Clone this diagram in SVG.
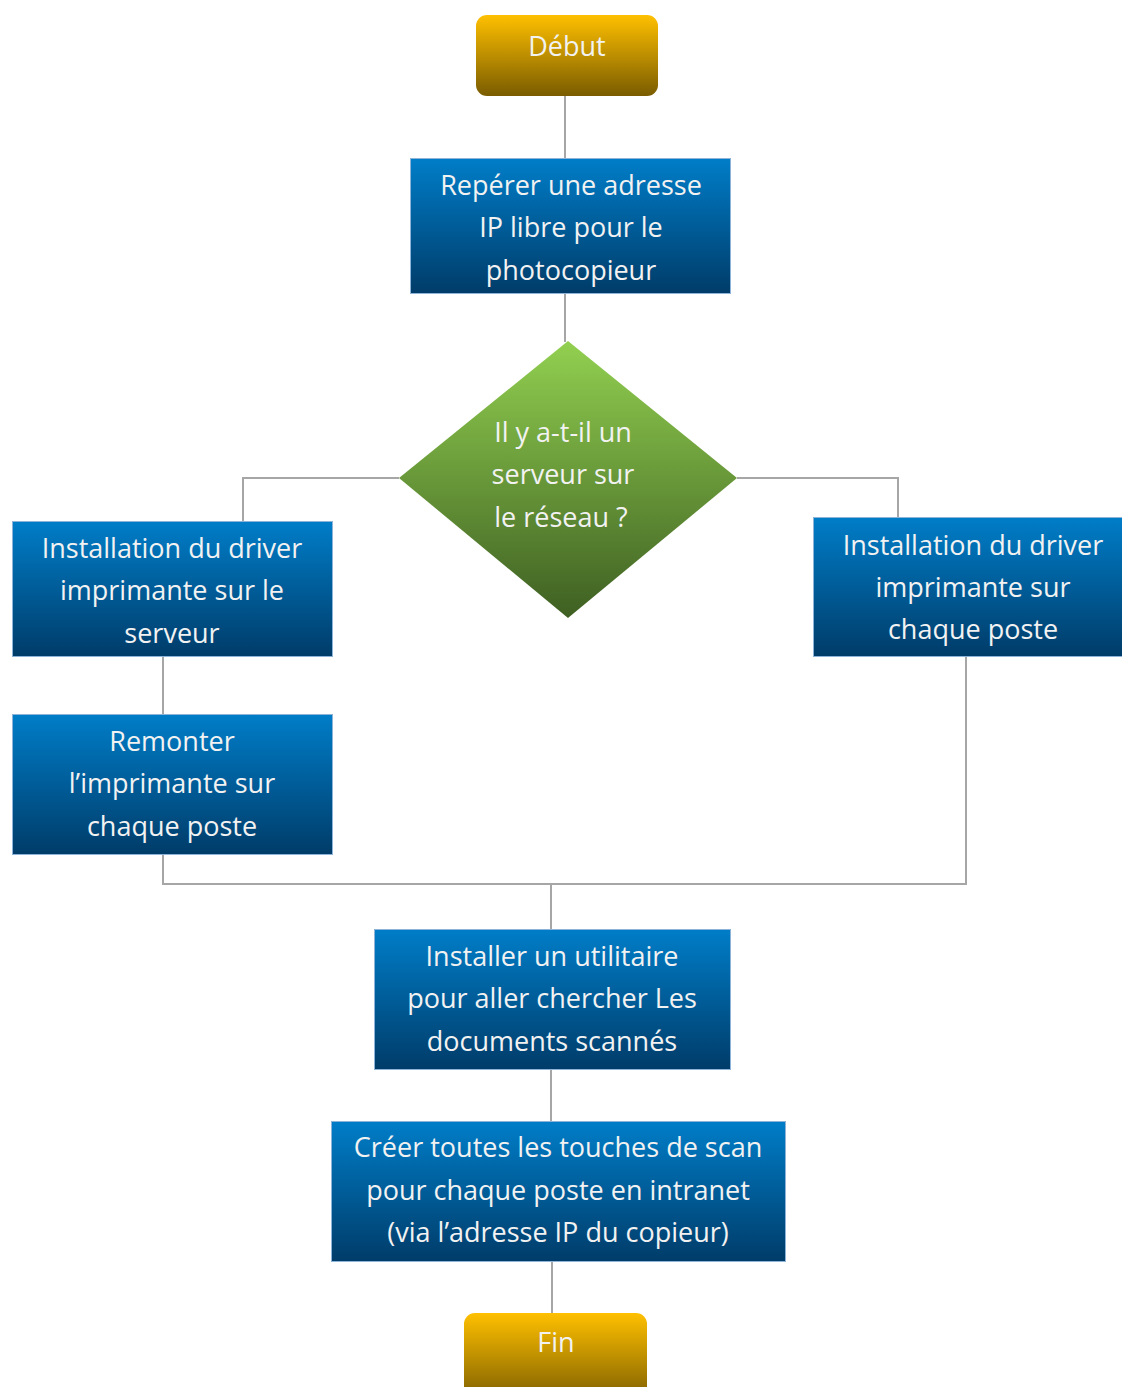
<svg xmlns="http://www.w3.org/2000/svg" width="1122" height="1387" viewBox="0 0 1122 1387">
<defs>
<linearGradient id="gold" x1="0" y1="0" x2="0" y2="1"><stop offset="0" stop-color="#FFC000"/><stop offset="1" stop-color="#7A5C00"/></linearGradient>
<linearGradient id="blue" x1="0" y1="0" x2="0" y2="1"><stop offset="0" stop-color="#007DC8"/><stop offset="1" stop-color="#003C69"/></linearGradient>
<linearGradient id="green" x1="0" y1="0" x2="0" y2="1"><stop offset="0" stop-color="#92D050"/><stop offset="1" stop-color="#3E5F22"/></linearGradient>
</defs>
<style>
.t{font-family:"Open Sans","Noto Sans","Liberation Sans",sans-serif;font-size:27px;fill:#F2F2F2;text-anchor:middle}
.b{fill:url(#blue);stroke:#8DB3D8;stroke-width:1}
.g{fill:url(#gold)}
.c{fill:none;stroke:#A6A6A6;stroke-width:2}
</style>
<rect width="1122" height="1387" fill="#fff"/>
<g id="connectors">
<path class="c" d="M565 96V158"/>
<path class="c" d="M565 294V342"/>
<path class="c" d="M399 478H243V521"/>
<path class="c" d="M737 478H898V517"/>
<path class="c" d="M163 657V714"/>
<path class="c" d="M163 855V884H966V657"/>
<path class="c" d="M551 884V929"/>
<path class="c" d="M551 1070V1121"/>
<path class="c" d="M552 1262V1313"/>
</g>
<g id="debut">
<rect class="g" x="476" y="15" width="182" height="81" rx="11"/>
<text class="t" x="567" y="56">Début</text>
</g>
<g id="reperer">
<rect class="b" x="410.5" y="158.5" width="320" height="135"/>
<text class="t" x="571" y="195">Repérer une adresse</text>
<text class="t" x="571" y="237">IP libre pour le</text>
<text class="t" x="571" y="280">photocopieur</text>
</g>
<g id="decision">
<polygon points="568,341 737,478 568,618 399,478" fill="url(#green)"/>
<text class="t" x="563" y="442">Il y a-t-il un</text>
<text class="t" x="563" y="484">serveur sur</text>
<text class="t" x="561" y="527">le réseau ?</text>
</g>
<g id="install-serveur">
<rect class="b" x="12.5" y="521.5" width="320" height="135"/>
<text class="t" x="172" y="558">Installation du driver</text>
<text class="t" x="172" y="600">imprimante sur le</text>
<text class="t" x="172" y="643">serveur</text>
</g>
<g id="remonter">
<rect class="b" x="12.5" y="714.5" width="320" height="140"/>
<text class="t" x="172" y="751">Remonter</text>
<text class="t" x="172" y="793">l’imprimante sur</text>
<text class="t" x="172" y="836">chaque poste</text>
</g>
<g id="install-poste">
<rect class="b" x="813.5" y="517.5" width="310" height="139"/>
<text class="t" x="973" y="555">Installation du driver</text>
<text class="t" x="973" y="597">imprimante sur</text>
<text class="t" x="973" y="639">chaque poste</text>
</g>
<g id="utilitaire">
<rect class="b" x="374.5" y="929.5" width="356" height="140"/>
<text class="t" x="552" y="966">Installer un utilitaire</text>
<text class="t" x="552" y="1008">pour aller chercher Les</text>
<text class="t" x="552" y="1051">documents scannés</text>
</g>
<g id="creer">
<rect class="b" x="331.5" y="1121.5" width="454" height="140"/>
<text class="t" x="558" y="1157">Créer toutes les touches de scan</text>
<text class="t" x="558" y="1200">pour chaque poste en intranet</text>
<text class="t" x="558" y="1242">(via l’adresse IP du copieur)</text>
</g>
<g id="fin">
<rect class="g" x="464" y="1313" width="183" height="90" rx="11"/>
<text class="t" x="556" y="1352">Fin</text>
</g>
</svg>
